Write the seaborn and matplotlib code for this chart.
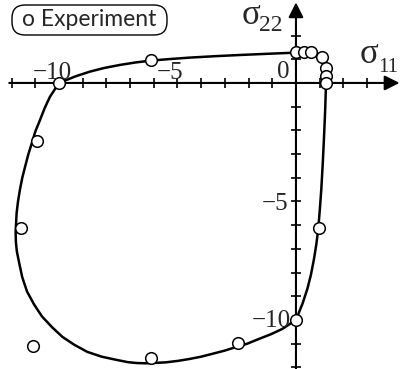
import matplotlib
matplotlib.use("Agg")
import matplotlib.pyplot as plt
import matplotlib.transforms as mtransforms
from matplotlib.patches import FancyBboxPatch
import seaborn as sns

sns.set_style("white")
plt.rcParams['font.family'] = ['Liberation Serif', 'DejaVu Serif']

# experiment points (sigma11, sigma22)
exp_x = [-10.0, -6.13, 0.0, 0.35, 0.65, 1.1, 1.27, 1.27, 1.27, 0.97, 0.0, -2.43, -6.13, -11.08, -11.6, -10.93]
exp_y = [0.0, 0.97, 1.3, 1.3, 1.3, 1.1, 0.62, 0.3, 0.0, -6.13, -10.0, -10.98, -11.62, -11.08, -6.13, -2.45]

# model curve
curve_x = [0.0, -1.2, -2.36, -3.4, -4.47, -5.3, -6.16, -6.8, -7.43, -8.1, -8.69, -9.3, -10.0,
           -10.38, -10.6, -10.8, -11.0, -11.15, -11.3, -11.43, -11.55, -11.65, -11.73, -11.79,
           -11.83, -11.82, -11.78, -11.68, -11.55, -11.35, -11.05, -10.72, -10.3,
           -9.85, -9.35, -8.8, -8.2, -7.6, -7.1, -6.7, -6.3, -5.5, -5.0, -4.51, -4.0, -3.53,
           -3.03, -2.55, -2.05, -1.56, -1.05, -0.58, 0.0,
           0.28, 0.48, 0.63, 0.76, 0.86, 0.94, 1.01, 1.07, 1.13, 1.18, 1.23, 1.27,
           1.27, 1.24, 1.18, 1.08, 0.95, 0.76, 0.55, 0.3, 0.0]
curve_y = [1.28, 1.23, 1.18, 1.13, 1.07, 1.01, 0.94, 0.86, 0.76, 0.63, 0.48, 0.28, 0.0,
           -0.58, -1.05, -1.56, -2.05, -2.55, -3.03, -3.53, -4.0, -4.51, -5.0, -5.5,
           -6.3, -6.7, -7.1, -7.6, -8.2, -8.8, -9.35, -9.85, -10.3,
           -10.72, -11.05, -11.35, -11.55, -11.68, -11.78, -11.82, -11.83, -11.79, -11.73, -11.65, -11.55, -11.43,
           -11.3, -11.15, -11.0, -10.8, -10.6, -10.38, -10.0,
           -9.3, -8.69, -8.1, -7.43, -6.8, -6.16, -5.3, -4.47, -3.4, -2.36, -1.2, 0.0,
           0.3, 0.55, 0.76, 0.95, 1.08, 1.18, 1.24, 1.27, 1.28]

x_ticks = list(range(-12, 4))
y_ticks = list(range(-12, 3))
x_labels = {-10: "\u221210", -5: "\u22125", 0: "0"}
y_labels = {-5: "\u22125", -10: "\u221210"}

serif = ["Liberation Serif", "DejaVu Serif"]

fig = plt.figure(figsize=(4.0, 3.69), dpi=100)
ax = fig.add_axes([0, 0, 1, 1])
ax.set_xlim(-12.49, 4.39)
ax.set_ylim(-12.07, 3.50)
ax.set_facecolor("white")

sns.lineplot(x=curve_x, y=curve_y, sort=False, estimator=None, color="black",
             linewidth=1.8, ax=ax, zorder=2)
sns.scatterplot(x=exp_x, y=exp_y, s=70, facecolor="white", edgecolor="black",
                linewidth=1.1, ax=ax, zorder=3)

# axes through the origin
for s in ["top", "right"]:
    ax.spines[s].set_visible(False)
ax.spines["left"].set_position(("data", 0))
ax.spines["bottom"].set_position(("data", 0))
ax.spines["left"].set_visible(False)
ax.spines["bottom"].set_visible(False)
ax.set_xticks([t for t in x_ticks if t != 0])
ax.set_yticks([t for t in y_ticks if t != 0])
ax.tick_params(direction="inout", length=7, width=1.2, color="black",
               labelbottom=False, labelleft=False, bottom=True, left=True)
ax.grid(False)

arrow = dict(arrowstyle="-|>,head_length=0.9,head_width=0.45", color="black",
             lw=1.5, shrinkA=0, shrinkB=0, mutation_scale=10)
ax.annotate("", xy=(4.37, 0), xytext=(-12.1, 0), arrowprops=arrow, zorder=1)
ax.annotate("", xy=(0, 3.4), xytext=(0, -12.1), arrowprops=arrow, zorder=1)

# tick labels
ax.text(-10.3, 0.17, x_labels[-10], ha="center", va="baseline", fontsize=18, family=serif)
ax.text(-5.3, 0.17, x_labels[-5], ha="center", va="baseline", fontsize=18, family=serif)
ax.text(-0.53, 0.21, x_labels[0], ha="center", va="baseline", fontsize=18, family=serif)
ax.text(-0.3, -5.36, y_labels[-5], ha="right", va="baseline", fontsize=18, family=serif)
ax.text(-0.22, -10.3, y_labels[-10], ha="right", va="baseline", fontsize=18, family=serif)

# axis names
ax.text(-2.3, 2.49, "\u03c3", ha="left", va="baseline", fontsize=25, family=serif)
ax.text(-1.58, 2.2, "22", ha="left", va="baseline", fontsize=17, family=serif)
ax.text(2.7, 0.84, "\u03c3", ha="left", va="baseline", fontsize=25, family=serif)
ax.text(3.45, 0.46, "11", ha="left", va="baseline", fontsize=15, family=serif)

# legend box
box = FancyBboxPatch((12, 369 - 35), 155, 30, boxstyle="round,pad=0,rounding_size=13",
                     transform=mtransforms.IdentityTransform(), facecolor="white",
                     edgecolor="black", linewidth=1.0)
fig.patches.append(box)
fig.text(89.5 / 400, 1 - 20 / 369, "o Experiment", ha="center", va="center",
         fontsize=16.5, family=["Lato", "DejaVu Sans"])

fig.savefig("out.png", dpi=100)
